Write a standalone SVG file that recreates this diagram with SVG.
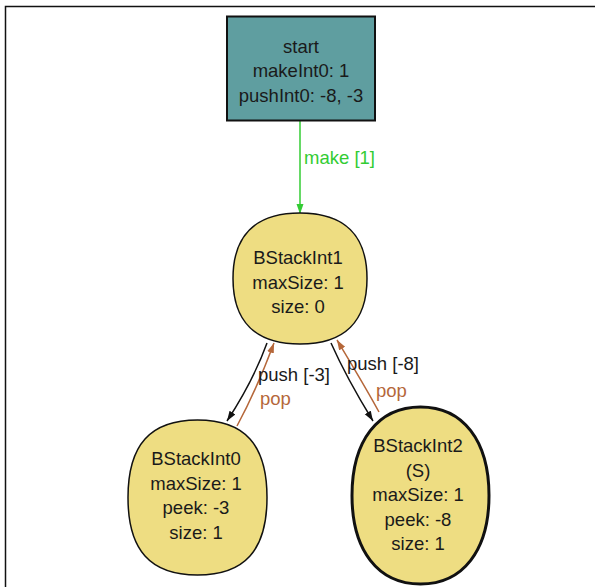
<svg xmlns="http://www.w3.org/2000/svg" width="595" height="587" viewBox="0 0 595 587">
<style>
  text { font-family: "Liberation Sans", Arial, sans-serif; font-size: 18.5px; fill: #1a1a1a; text-anchor: middle; }
  .state { fill: #eedd82; stroke: #111; stroke-width: 1.5; }
  .final { stroke-width: 3; }
  .start { fill: #5f9ea0; stroke: #111; stroke-width: 2; }
  .edge { fill: none; stroke-width: 1.5; }
  .blk { stroke: #111; }
  .brn { stroke: #b5673a; }
  .grn { stroke: #33cc33; }
  .lbl { text-anchor: start; }
</style>
<defs>
  <marker id="ab" markerUnits="userSpaceOnUse" markerWidth="11" markerHeight="8" refX="10" refY="3.5" orient="auto"><path d="M0,0 L10,3.5 L0,7 z" fill="#111"/></marker>
  <marker id="ar" markerUnits="userSpaceOnUse" markerWidth="11" markerHeight="8" refX="10" refY="3.5" orient="auto"><path d="M0,0 L10,3.5 L0,7 z" fill="#b5673a"/></marker>
  <marker id="ag" markerUnits="userSpaceOnUse" markerWidth="11" markerHeight="8" refX="10" refY="3.5" orient="auto"><path d="M0,0 L10,3.5 L0,7 z" fill="#33cc33"/></marker>
</defs>
<rect x="0" y="0" width="595" height="587" fill="#fff"/>
<path d="M5.5,587 V6.5 H595" fill="none" stroke="#111" stroke-width="1.5"/>

<g id="edges">
  <path class="edge grn" d="M300,121 L300,214" marker-end="url(#ag)"/>
  <text class="lbl" x="304" y="164" style="fill:#33cc33">make [1]</text>
  <path class="edge blk" d="M267,343 C259,365 244,395 227,421" marker-end="url(#ab)"/>
  <path class="edge brn" d="M237,426 C250,402 262,375 274,343" marker-end="url(#ar)"/>
  <text class="lbl" x="258" y="381">push [-3]</text>
  <text class="lbl" x="260" y="405" style="fill:#b5673a">pop</text>
  <path class="edge blk" d="M331,343 C343,370 357,395 373,421" marker-end="url(#ab)"/>
  <path class="edge brn" d="M379,412 C366,388 352,365 337,340" marker-end="url(#ar)"/>
  <text class="lbl" x="347" y="370">push [-8]</text>
  <text class="lbl" x="376" y="397" style="fill:#b5673a">pop</text>
</g>

<g id="start">
  <rect class="start" x="227" y="16.5" width="148" height="104"/>
  <text x="301" y="52.5">start</text>
  <text x="301" y="77">makeInt0: 1</text>
  <text x="301" y="101.5">pushInt0: -8, -3</text>
</g>

<g id="BStackInt1">
  <path class="state" d="M300,213 C345,213 367,236 367,278.5 C367,321 345,344 300,344 C255,344 233,321 233,278.5 C233,236 255,213 300,213Z"/>
  <text x="298" y="264">BStackInt1</text>
  <text x="298" y="288.5">maxSize: 1</text>
  <text x="298" y="313">size: 0</text>
</g>

<g id="BStackInt0">
  <path class="state" d="M197.5,420 C244.8,420 267,444.8 267,497.5 C267,550.2 244.8,575 197.5,575 C150.2,575 128,550.2 128,497.5 C128,444.8 150.2,420 197.5,420Z"/>
  <text x="196" y="465">BStackInt0</text>
  <text x="196" y="489.5">maxSize: 1</text>
  <text x="196" y="514">peek: -3</text>
  <text x="196" y="538.5">size: 1</text>
</g>

<g id="BStackInt2">
  <path class="state final" d="M420.5,407 C463,407 489,440.6 489,495.5 C489,550.4 463,584 420.5,584 C378,584 352,550.4 352,495.5 C352,440.6 378,407 420.5,407Z"/>
  <text x="418" y="452">BStackInt2</text>
  <text x="418" y="476.5">(S)</text>
  <text x="418" y="501">maxSize: 1</text>
  <text x="418" y="525.5">peek: -8</text>
  <text x="418" y="550">size: 1</text>
</g>
</svg>
